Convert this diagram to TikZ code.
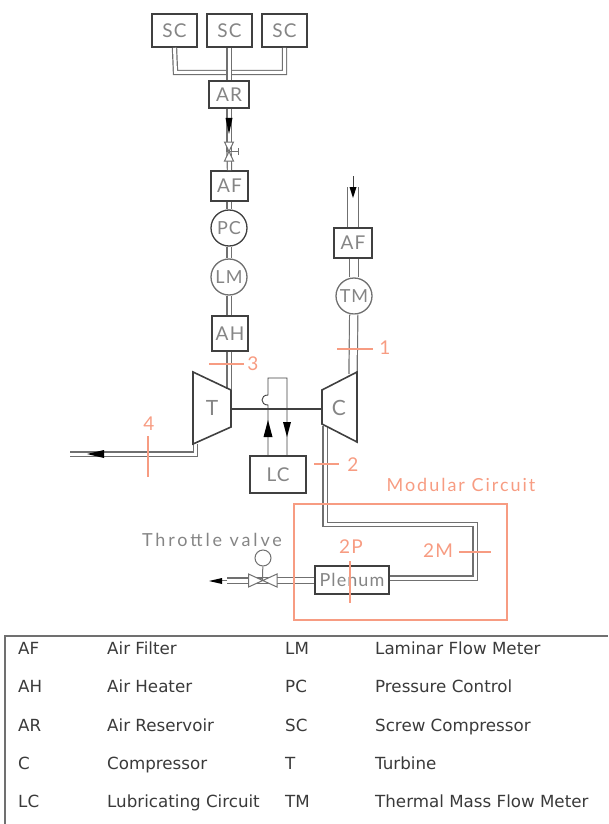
\documentclass[tikz,border=0pt]{standalone}
\usepackage{fontspec}
\setmainfont{Lato}
\newfontfamily\legendfont{DejaVu Sans}
\newfontfamily\cadfont[LetterSpace=6]{Lato}
\newfontfamily\cadwide[LetterSpace=11]{Lato}
\newfontfamily\cadwider[LetterSpace=16]{Lato}
\definecolor{ink}{HTML}{404040}
\definecolor{pipec}{HTML}{707070}
\definecolor{cadtext}{HTML}{858585}
\definecolor{tagc}{HTML}{F79C82}
\definecolor{framec}{HTML}{707070}
\definecolor{legendc}{HTML}{3A3A3A}
\tikzset{
  unit/.style={draw=ink,line width=1.6pt,fill=white,inner sep=0pt,text=cadtext,font=\cadfont\fontsize{19}{19}\selectfont,minimum width=#1},
  gauge/.style={circle,draw=pipec,line width=1.3pt,fill=white,inner sep=0pt,minimum size=36pt,text=cadtext,font=\cadfont\fontsize{18}{18}\selectfont},
  machine/.style={draw=ink,line width=1.6pt,line join=miter},
  pipe/.style={draw=pipec,line width=1.2pt,double=white,double distance=#1,line join=miter},
  pipe/.default=3pt,
  thin pipe/.style={draw=ink,line width=1.1pt},
  tip/.style={fill=black,draw=none},
  valve/.style={draw=pipec,line width=1pt,fill=white},
  tag/.style={text=tagc,inner sep=0pt,font=\cadfont\fontsize{19}{19}\selectfont},
  tick/.style={draw=tagc,line width=1.3pt},
  note/.style={text=cadtext,inner sep=0pt,font=\cadwider\fontsize{18}{18}\selectfont},
  legend/.style={anchor=base west,inner sep=0pt,text=legendc,font=\legendfont\fontsize{16.7}{16.7}\selectfont},
}
\begin{document}
\begin{tikzpicture}[x=1pt,y=-1pt]
\useasboundingbox (0,0) rectangle (608,824);
% units
\node[unit=45pt,minimum height=33pt] (sc1) at (174.5,30.5) {SC};
\node[unit=45pt,minimum height=33pt] (sc2) at (229.5,30.5) {SC};
\node[unit=45pt,minimum height=33pt] (sc3) at (284.5,30.5) {SC};
\node[unit=40pt,minimum height=27pt] (ar) at (229,94.5) {AR};
\node[unit=37pt,minimum height=30pt] (af1) at (229.5,186) {AF};
\node[gauge,draw=ink] (pc) at (229,228) {PC};
\node[gauge] (lm) at (229,277) {LM};
\node[unit=36pt,minimum height=35pt] (ah) at (230,333.5) {AH};
\node[unit=38pt,minimum height=30pt] (af2) at (353,243) {AF};
\node[gauge] (tm) at (354,296) {TM};
\node[unit=56pt,minimum height=37pt] (lc) at (278,474.5) {LC};
\node[unit=74pt,minimum height=28pt,font=\cadfont\fontsize{18}{18}\selectfont] (plenum) at (352,580) {Plenum};
% turbine and compressor
\node[text=cadtext,inner sep=0pt,font=\cadfont\fontsize{21}{21}\selectfont] (T) at (212,408) {T};
\node[text=cadtext,inner sep=0pt,font=\cadfont\fontsize{21}{21}\selectfont] (C) at (339,408) {C};
\coordinate (Tr) at (231,409);
\coordinate (Cl) at (322,409);
\coordinate (Tin) at (229,389);
\coordinate (Tout) at (195.5,444);
\coordinate (Cin) at (353,374);
\coordinate (Cout) at (325,426);
% pipes
\coordinate (busL) at (175.5,72.5);
\coordinate (busR) at (284.5,72.5);
\coordinate (v1) at (229,152);
\draw[pipe] (sc1.south) -- (busL) -- (busR) -- (sc3.south);
\draw[pipe] (sc2.south -| ar.north) -- (ar.north);
\draw[pipe] (ar.south) -- (v1);
\draw[pipe] (v1) -- (af1.north);
\draw[pipe] (af1.south -| pc) -- (pc);
\draw[pipe] (pc) -- (lm);
\draw[pipe] (lm) -- (ah.north -| lm);
\draw[pipe] (ah.south -| lm) -- (Tin);
\coordinate (inlet) at (353,187);
\draw[pipe=10.5pt] (inlet) -- (inlet |- af2.north);
\draw[pipe=7.5pt] (af2.south -| tm) -- (tm);
\draw[pipe=7pt] (tm) -- (Cin);
\coordinate (ex) at (70,454);
\draw[pipe=3pt] (Tout) -- (195.5,454) -- (ex);
\coordinate (out1) at (325,524.5);
\coordinate (out2) at (475,524.5);
\coordinate (out3) at (475,578);
\draw[pipe=3pt] (Cout) -- (out1) -- (out2) -- (out3) -- (plenum.east |- out3);
\coordinate (v2) at (262.5,580.5);
\coordinate (out4) at (227,580.5);
\draw[pipe=5pt] (plenum.west |- v2) -- (v2);
\draw[pipe=4pt] (v2) -- (out4);
\coordinate (out5) at (221,580.5);
\draw[line width=.9pt,draw=pipec] (out4) -- (out5);
% machines on top of the pipes
\draw[machine] (193,372) -- (231,390) -- (231,427) -- (193,444) -- cycle;
\draw[machine] (322,390) -- (357,372) -- (357,442) -- (322,424) -- cycle;
\draw[thin pipe] (Tr) -- (Cl);
% lubrication loop
\coordinate (lu) at (268,378);
\coordinate (ru) at (287,378);
\coordinate (lb1) at (268,405);
\coordinate (lb2) at (268,395);
\draw[thin pipe,line width=.9pt] (lc.north -| lu) -- (lb1) .. controls (260,405) and (260,395) .. (lb2) -- (lu) -- (ru) -- (lc.north -| ru);
\fill[tip] (268,420) -- (272.5,437) -- (263.5,437) -- cycle;
\fill[tip] (287,437) -- (291,422) -- (283,422) -- cycle;
% arrowheads and valves
\fill[tip] (229,134) -- (225.5,118) -- (232.5,118) -- cycle;
\draw[valve] (224.5,142) -- (233.5,142) -- (224.5,161) -- (233.5,161) -- cycle;
\coordinate (v1h) at (238,151.5);
\draw[line width=.8pt,draw=pipec] (v1 |- v1h) -- (v1h) (238,148) -- (238,155);
\draw[line width=1pt,draw=ink] (353,176) -- (353,190);
\fill[tip] (353,198) -- (349.5,187) -- (356.5,187) -- cycle;
\fill[tip] (87,454) -- (104,450) -- (104,458) -- cycle;
\fill[tip] (209,581) -- (222,578) -- (222,584) -- cycle;
\node[circle,draw=pipec,line width=1pt,minimum size=16pt,inner sep=0pt] (tv) at (263,558) {};
\draw[line width=1pt,draw=pipec] (tv) -- (v2);
\draw[valve] (248.5,574) -- (277,587) -- (277,574) -- (248.5,587) -- cycle;
% stations
\node[tag] (n1) at (385,348) {1};
\node[tag] (n2) at (353,465) {2};
\node[tag] (n3) at (253,364) {3};
\node[tag] (n4) at (149,424) {4};
\node[tag] (n2m) at (438,551) {2M};
\node[tag] (n2p) at (351,547) {2P};
\node[tag,font=\cadwide\fontsize{18}{18}\selectfont] (mc) at (461,485) {Modular Circuit};
\node[note] (tvl) at (212,540) {Throttle valve};
\draw[tick] (337,349) -- (373,349);
\draw[tick] (314,464) -- (339,464);
\draw[tick] (209,364) -- (244,364);
\draw[tick] (148,436) -- (148,477);
\draw[tick] (459,552) -- (491,552);
\draw[tick] (350,561) -- (350,603);
\draw[tick] (294,504) rectangle (507,620);
% legend
\draw[framec,line width=1.2pt] (5,824) -- (5,636) -- (608,636);
\node[legend] (a1) at (18,654) {AF};
\node[legend] (a2) at (107,654) {Air Filter};
\node[legend] (a3) at (285,654) {LM};
\node[legend] (a4) at (375,654) {Laminar Flow Meter};
\node[legend] (b1) at (18,692) {AH};
\node[legend] (b2) at (107,692) {Air Heater};
\node[legend] (b3) at (285,692) {PC};
\node[legend] (b4) at (375,692) {Pressure Control};
\node[legend] (c1) at (18,731) {AR};
\node[legend] (c2) at (107,731) {Air Reservoir};
\node[legend] (c3) at (285,731) {SC};
\node[legend] (c4) at (375,731) {Screw Compressor};
\node[legend] (d1) at (18,769) {C};
\node[legend] (d2) at (107,769) {Compressor};
\node[legend] (d3) at (285,769) {T};
\node[legend] (d4) at (375,769) {Turbine};
\node[legend] (e1) at (18,807) {LC};
\node[legend] (e2) at (107,807) {Lubricating Circuit};
\node[legend] (e3) at (285,807) {TM};
\node[legend] (e4) at (375,807) {Thermal Mass Flow Meter};
\end{tikzpicture}
\end{document}
